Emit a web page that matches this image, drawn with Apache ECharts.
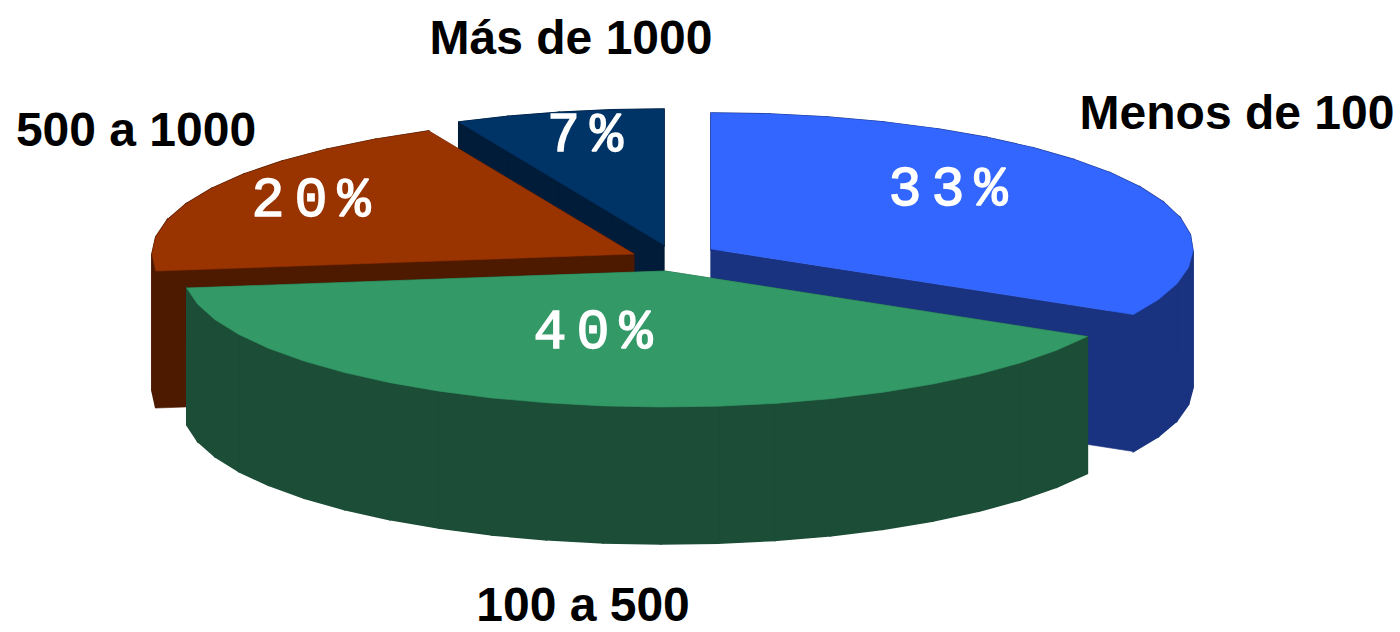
<!DOCTYPE html>
<html><head><meta charset="utf-8">
<style>
html,body{margin:0;padding:0;background:#fff}
#c{width:1400px;height:632px}
svg text[style*="Liberation Mono"]{letter-spacing:10px}
</style>
<script src="https://cdn.jsdelivr.net/npm/echarts@6/dist/echarts.min.js"></script>
</head><body><div id="c"></div>
<script>
const categories = ['Menos de 100', '100 a 500', '500 a 1000', 'Más de 1000'];
const shares = [33, 40, 20, 7];
const topColors = ['#3366FF', '#339966', '#993300', '#003366'];
const sideColors = ['#1A3380', '#1C4D36', '#4D1A00', '#001C38'];
const centers = [[711, 249], [665, 271], [634, 254], [664, 245]];
const paintOrder = [2, 3, 1, 0];
const pctAnchors = [[953, 190], [598, 333], [316, 201], [590, 136]];
const nameAnchors = [[1237, 112], [583, 604], [136, 129], [571, 37]];
const RX = 482, RY = 136, DEPTH = 137, STEP = 7;
const total = shares.reduce((a, b) => a + b, 0);

function renderItem(params, api) {
  const i = params.dataIndex;
  const value = api.value(1);
  let before = 0;
  for (let k = 0; k < i; k++) before += shares[k];
  const a0 = before / total * 2 * Math.PI;
  const a1 = (before + value) / total * 2 * Math.PI;
  const [cx, cy] = centers[i];
  const arc = [];
  const n = Math.max(2, Math.round((a1 - a0) * 180 / Math.PI / STEP));
  for (let k = 0; k <= n; k++) {
    const a = a0 + (a1 - a0) * k / n;
    arc.push([cx + RX * Math.sin(a), cy - RY * Math.cos(a)]);
  }
  const top = [[cx, cy]].concat(arc);
  const down = p => [p[0], p[1] + DEPTH];
  const z = paintOrder[i] * 10;
  const poly = (points, fill, z2, lineWidth) => ({
    type: 'polygon', z2, shape: { points },
    style: { fill, stroke: fill, lineWidth }
  });
  const text = (t, pos, style, z2) => ({
    type: 'text', z2, x: pos[0], y: pos[1],
    style: Object.assign({ text: t, align: 'center', verticalAlign: 'middle' }, style)
  });
  const walls = [];
  for (let k = 0; k < n; k++) {
    walls.push(poly([arc[k], arc[k + 1], down(arc[k + 1]), down(arc[k])], sideColors[i], z + 2, 1.6));
  }
  const faceA = [[cx, cy], arc[0], down(arc[0]), down([cx, cy])];
  const faceB = [[cx, cy], arc[n], down(arc[n]), down([cx, cy])];
  return {
    type: 'group',
    children: [
      poly(faceA, sideColors[i], z + 1, 0.6),
      poly(faceB, sideColors[i], z + 1, 0.6)
    ].concat(walls, [
      poly(top, topColors[i], z + 3, 0.6),
      text(value + '%', pctAnchors[i], {
        font: 'normal 55px "Liberation Mono"', fill: '#fff', stroke: '#fff', lineWidth: 1.4
      }, 100),
      text(api.value(0), nameAnchors[i], {
        font: 'bold 48px "Liberation Sans"', fill: '#000', lineHeight: 38
      }, 100)
    ])
  };
}

const chart = echarts.init(document.getElementById('c'), null, { renderer: 'svg' });
chart.setOption({
  animation: false,
  backgroundColor: '#fff',
  series: [{
    type: 'custom',
    coordinateSystem: 'none',
    renderItem,
    encode: { itemName: 0, value: 1 },
    data: categories.map((c, i) => [c, shares[i]]),
    dimensions: [{ name: 'category', type: 'ordinal' }, { name: 'share', type: 'number' }]
  }]
});
</script></body></html>
